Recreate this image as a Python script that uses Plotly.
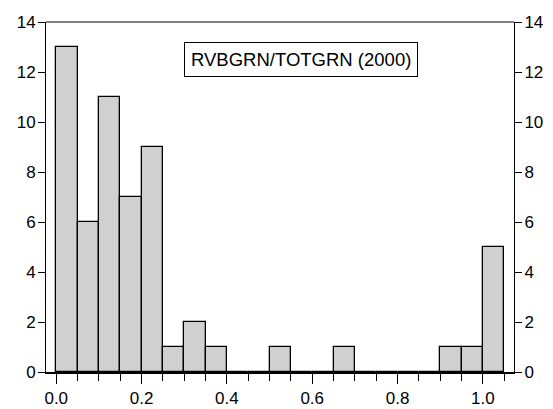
import plotly.graph_objects as go

bin_starts = [0.00, 0.05, 0.10, 0.15, 0.20, 0.25, 0.30, 0.35, 0.40, 0.45, 0.50,
              0.55, 0.60, 0.65, 0.70, 0.75, 0.80, 0.85, 0.90, 0.95, 1.00]
counts = [13, 6, 11, 7, 9, 1, 2, 1, 0, 0, 1, 0, 0, 1, 0, 0, 0, 0, 1, 1, 5]
bin_width = 0.05
x_tickvals = [0.0, 0.2, 0.4, 0.6, 0.8, 1.0]
y_tickvals = [0, 2, 4, 6, 8, 10, 12, 14]
title_text = "RVBGRN/TOTGRN (2000)"

FONT = dict(family="Liberation Sans, Arial, sans-serif", size=17, color="black")

fig = go.Figure()
fig.add_trace(go.Bar(
    x=bin_starts, y=counts, width=bin_width, offset=0,
    marker=dict(color="#d0d0d0", line=dict(color="black", width=1.3)),
    showlegend=False, hoverinfo="skip",
))
fig.add_trace(go.Scatter(x=[0], y=[0], yaxis="y2", mode="markers",
                         marker=dict(opacity=0), showlegend=False, hoverinfo="skip"))

# page body has an 8px margin, so the figure is sized and offset to compensate
fig.update_layout(
    width=545, height=401,
    margin=dict(l=37.5, r=39, t=14, b=37, autoexpand=False),
    paper_bgcolor="white", plot_bgcolor="white",
    font=FONT,
    bargap=0,
    xaxis=dict(range=[-0.024, 1.073], tickvals=x_tickvals,
               ticktext=[f"{v:.1f}" for v in x_tickvals],
               ticks="outside", ticklen=10, tickwidth=1, tickcolor="black",
               minor=dict(dtick=0.05, tick0=0, ticks="outside", ticklen=7,
                          tickwidth=1, tickcolor="black"),
               showline=True, linecolor="black", linewidth=2, mirror=False,
               showgrid=False, zeroline=False, automargin=False),
    yaxis=dict(range=[0, 14], tickvals=y_tickvals, ticks="outside", ticklen=7,
               tickcolor="black", showline=True, linecolor="black", linewidth=1,
               mirror=True, showgrid=False, zeroline=False, automargin=False,
               ticklabelstandoff=-1),
    yaxis2=dict(range=[0, 14], tickvals=y_tickvals, ticks="outside", ticklen=7,
                tickcolor="black", overlaying="y", side="right", matches="y",
                showline=False, showgrid=False, zeroline=False, automargin=False,
                ticklabelstandoff=-1),
    shapes=[dict(type="line", xref="paper", yref="paper", x0=0, x1=1, y0=1, y1=1,
                 line=dict(color="black", width=1))],
    annotations=[dict(text=title_text, xref="paper", yref="paper",
                      x=(301 - 45.5) / (514 - 45.5), y=(372 - 59.5) / (372 - 22),
                      xanchor="center", yanchor="middle", showarrow=False,
                      bordercolor="black", borderwidth=1, borderpad=6,
                      bgcolor="white", font=dict(size=18.5))],
)

fig.write_html("out.html")
